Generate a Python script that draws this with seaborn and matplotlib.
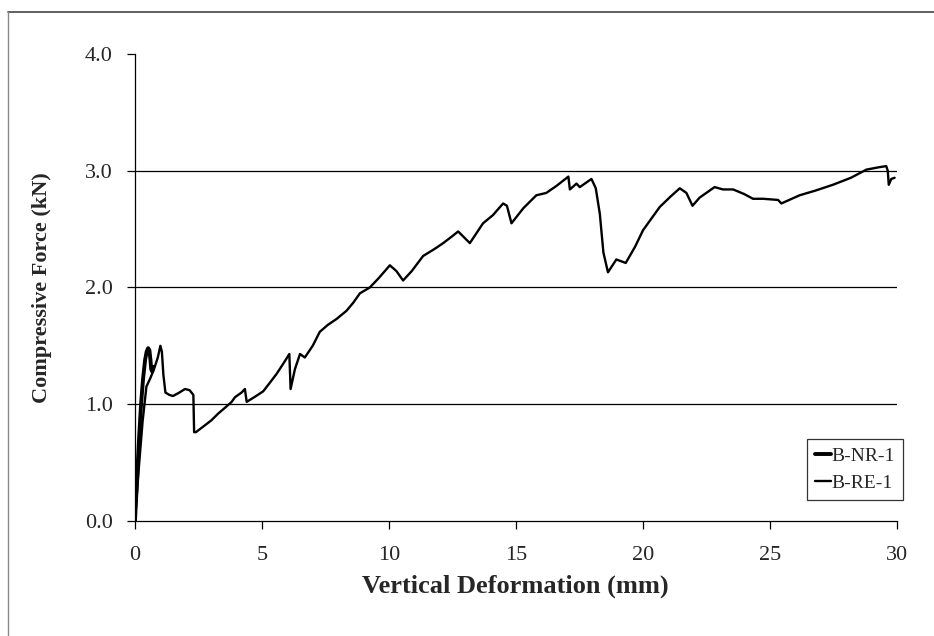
import matplotlib
matplotlib.use("Agg")
import matplotlib.pyplot as plt
import pandas as pd
import seaborn as sns
from matplotlib.lines import Line2D

# B-NR-1 (thick line, only the first peak)
nr_x = [0, 0.08, 0.16, 0.24, 0.32, 0.40, 0.46, 0.52, 0.57, 0.61, 0.64, 0.68, 0.72]
nr_y = [0, 0.35, 0.70, 1.00, 1.22, 1.38, 1.45, 1.48, 1.46, 1.38, 1.30, 1.28, 1.32]

# B-RE-1 (thin line, full test)
re_x = [0, 0.15, 0.3, 0.45, 0.6, 0.75, 0.9, 1.0, 1.06, 1.12, 1.2, 1.35, 1.5, 1.75,
        1.97, 2.15, 2.3, 2.33, 2.4, 2.76, 3.0, 3.28, 3.55, 3.81, 3.94, 4.2, 4.33,
        4.40, 4.7, 5.05, 5.3, 5.58, 5.85, 6.08, 6.13, 6.3, 6.5, 6.69, 7.0, 7.28,
        7.6, 7.94, 8.33, 8.6, 8.86, 9.25, 9.6, 10.04, 10.3, 10.56, 10.9, 11.35,
        11.8, 12.14, 12.5, 12.73, 13.19, 13.71, 14.1, 14.5, 14.65, 14.83, 15.3,
        15.81, 16.2, 16.6, 17.07, 17.13, 17.39, 17.52, 17.98, 18.15, 18.31, 18.45,
        18.63, 18.96, 19.33, 19.7, 20.01, 20.67, 21.1, 21.46, 21.72, 21.96, 22.24,
        22.83, 23.16, 23.56, 24.0, 24.34, 24.74, 25.33, 25.46, 26.18, 26.8, 27.49,
        28.2, 28.81, 29.3, 29.59, 29.65, 29.69, 29.79, 29.92]
re_y = [0, 0.45, 0.85, 1.15, 1.22, 1.30, 1.40, 1.50, 1.45, 1.25, 1.10, 1.08, 1.07, 1.10,
        1.13, 1.12, 1.08, 0.76, 0.76, 0.82, 0.86, 0.92, 0.97, 1.02, 1.06, 1.10, 1.13,
        1.02, 1.06, 1.11, 1.18, 1.26, 1.35, 1.43, 1.13, 1.30, 1.43, 1.40, 1.50, 1.62,
        1.68, 1.73, 1.80, 1.87, 1.95, 2.00, 2.08, 2.19, 2.14, 2.06, 2.14, 2.27,
        2.33, 2.38, 2.44, 2.48, 2.38, 2.55, 2.62, 2.72, 2.70, 2.55, 2.68,
        2.79, 2.81, 2.87, 2.95, 2.84, 2.89, 2.86, 2.93, 2.85, 2.63, 2.30,
        2.13, 2.24, 2.21, 2.35, 2.49, 2.69, 2.78, 2.85, 2.81, 2.70, 2.77,
        2.86, 2.84, 2.84, 2.80, 2.76, 2.76, 2.75, 2.72, 2.79, 2.83, 2.88,
        2.94, 3.01, 3.03, 3.04, 3.00, 2.88, 2.93, 2.94]

x_ticks = [0, 5, 10, 15, 20, 25, 30]
y_ticks = [0.0, 1.0, 2.0, 3.0, 4.0]

sns.set_style("ticks")
plt.rcParams["font.family"] = ["Liberation Serif", "DejaVu Serif"]

fig = plt.figure(figsize=(9.34, 6.36), dpi=100)
ax = fig.add_axes([0.1445, 0.181, 0.8155, 0.734])

for y in [1.0, 2.0, 3.0]:
    ax.axhline(y, color="black", lw=0.9, zorder=1)

nr = pd.DataFrame({"x": nr_x, "y": nr_y})
re = pd.DataFrame({"x": re_x, "y": re_y})
sns.lineplot(data=nr, x="x", y="y", ax=ax, sort=False, estimator=None,
             color="black", lw=2.8, label="B-NR-1", zorder=3)
sns.lineplot(data=re, x="x", y="y", ax=ax, sort=False, estimator=None,
             color="black", lw=1.7, label="B-RE-1", zorder=2)

ax.set_xlim(0, 30)
ax.set_ylim(0, 4.0)
ax.set_xticks(x_ticks)
ax.set_yticks(y_ticks)
ax.set_yticklabels([f"{v:.1f}" for v in y_ticks])
ax.tick_params(axis="both", labelsize=16, length=6, width=0.9, color="black")
ax.tick_params(axis="x", pad=12)
ax.tick_params(axis="y", pad=10)
for s in ["top", "right"]:
    ax.spines[s].set_visible(False)
for s in ["left", "bottom"]:
    ax.spines[s].set_linewidth(0.9)
    ax.spines[s].set_color("black")

ax.set_xlabel("Vertical Deformation (mm)", fontsize=19, fontweight="bold", labelpad=7)
ax.set_ylabel("Compressive Force (kN)", fontsize=16, fontweight="bold", labelpad=24)

leg = ax.legend(loc="lower right", bbox_to_anchor=(1.008, 0.045), fontsize=14,
                frameon=True, fancybox=False, handlelength=0.8, handletextpad=0.05,
                borderpad=0.4, labelspacing=0.5, borderaxespad=0)
leg.get_frame().set_edgecolor("black")
leg.get_frame().set_linewidth(0.9)

# outer chart border (top and left edges visible)
fig.add_artist(Line2D([8 / 934, 1.0], [1 - 12 / 636, 1 - 12 / 636], color="#444444", lw=1.2))
fig.add_artist(Line2D([8 / 934, 8 / 934], [0, 1 - 12 / 636], color="#888888", lw=1.0))

fig.savefig("out.png", dpi=100)
